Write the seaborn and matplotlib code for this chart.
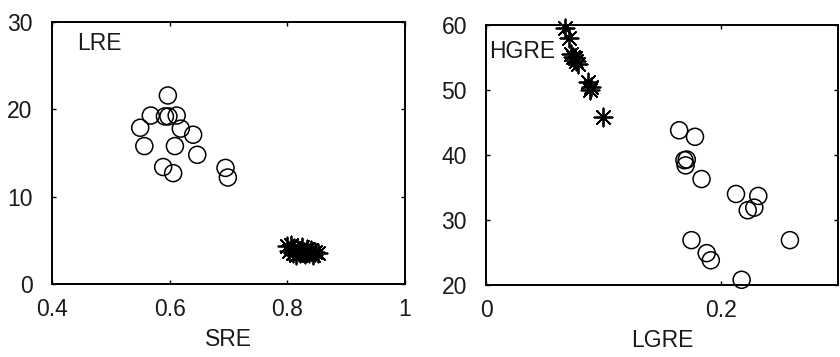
import matplotlib
matplotlib.use("Agg")
import matplotlib.pyplot as plt
import seaborn as sns
import pandas as pd

# ---- data ----
sre_circle = [0.597, 0.568, 0.592, 0.598, 0.612, 0.550, 0.619, 0.640, 0.557,
              0.609, 0.647, 0.589, 0.606, 0.695, 0.699]
lre_circle = [21.6, 19.3, 19.2, 19.2, 19.3, 17.9, 17.8, 17.1, 15.8,
              15.8, 14.8, 13.4, 12.7, 13.3, 12.2]
sre_star = [0.800, 0.803, 0.806, 0.810, 0.812, 0.815, 0.818, 0.822, 0.825,
            0.828, 0.830, 0.833, 0.837, 0.840, 0.843, 0.848, 0.852]
lre_star = [4.3, 3.8, 4.5, 3.6, 4.1, 3.3, 3.9, 3.5, 4.2,
            3.7, 3.4, 4.0, 3.6, 3.9, 3.3, 3.7, 3.5]

lgre_circle = [0.1645, 0.178, 0.171, 0.169, 0.170, 0.1836, 0.213, 0.232, 0.223,
               0.2286, 0.175, 0.259, 0.188, 0.1915, 0.2178]
hgre_circle = [43.8, 42.8, 39.3, 39.2, 38.4, 36.3, 34.0, 33.7, 31.5,
               31.9, 26.9, 26.9, 24.9, 23.8, 20.8]
lgre_star = [0.0669, 0.0706, 0.0720, 0.0735, 0.0754, 0.0768, 0.0780, 0.0870,
             0.0882, 0.0890, 0.0996]
hgre_star = [59.5, 58.0, 55.6, 55.0, 54.9, 54.4, 54.0, 51.3, 50.0, 50.4, 45.8]

left_xticks = [0.4, 0.6, 0.8, 1.0]
left_xticklabels = ["0.4", "0.6", "0.8", "1"]
left_yticks = [0, 10, 20, 30]
right_xticks = [0, 0.2]
right_xticklabels = ["0", "0.2"]
right_yticks = [20, 30, 40, 50, 60]

sns.set_style("white")
plt.rcParams['font.family'] = ['Liberation Sans', 'DejaVu Sans']

fig = plt.figure(figsize=(8.4, 3.57), dpi=100)
ax1 = fig.add_axes([0.0619, 0.2045, 0.4201, 0.7335])
ax2 = fig.add_axes([0.579, 0.2017, 0.4186, 0.7283])

FS = 16.5
TXT = "#1a1a1a"
star_marker = (8, 2, 0)


def draw(ax, cx, cy, sx, sy):
    dfc = pd.DataFrame({"x": cx, "y": cy})
    dfs = pd.DataFrame({"x": sx, "y": sy})
    sns.scatterplot(data=dfc, x="x", y="y", ax=ax, marker="o", s=150,
                    facecolors="none", edgecolor="black", linewidth=1.1,
                    clip_on=False, zorder=3)
    sns.scatterplot(data=dfs, x="x", y="y", ax=ax, marker=star_marker, s=170,
                    color="black", linewidth=1.3, clip_on=False, zorder=3)


draw(ax1, sre_circle, lre_circle, sre_star, lre_star)
draw(ax2, lgre_circle, hgre_circle, lgre_star, hgre_star)

ax1.set_xlim(0.4, 1.0)
ax1.set_ylim(0, 30)
ax1.set_xticks(left_xticks)
ax1.set_xticklabels(left_xticklabels)
ax1.set_yticks(left_yticks)
ax1.set_xlabel("SRE", fontsize=FS, labelpad=5, color=TXT)
ax1.set_ylabel("")
ax1.text(0.4425, 27.6, "LRE", fontsize=FS, va="center", ha="left", color=TXT)

ax2.set_xlim(0, 0.3)
ax2.set_ylim(20, 60)
ax2.set_xticks(right_xticks)
ax2.set_xticklabels(right_xticklabels)
ax2.set_yticks(right_yticks)
ax2.set_xlabel("LGRE", fontsize=FS, labelpad=5, color=TXT)
ax2.set_ylabel("")
ax2.text(0.002, 55.9, "HGRE", fontsize=FS, va="center", ha="left", color=TXT)

for ax in (ax1, ax2):
    for sp in ax.spines.values():
        sp.set_visible(True)
        sp.set_color("black")
        sp.set_linewidth(1.4)
    ax.tick_params(direction="in", length=3, width=1, top=True, right=True,
                   bottom=True, left=True, labelsize=FS, pad=10,
                   colors="black", labelcolor=TXT)
    ax.tick_params(axis="y", pad=14)
    ax.grid(False)

fig.savefig("out.png", dpi=100)
